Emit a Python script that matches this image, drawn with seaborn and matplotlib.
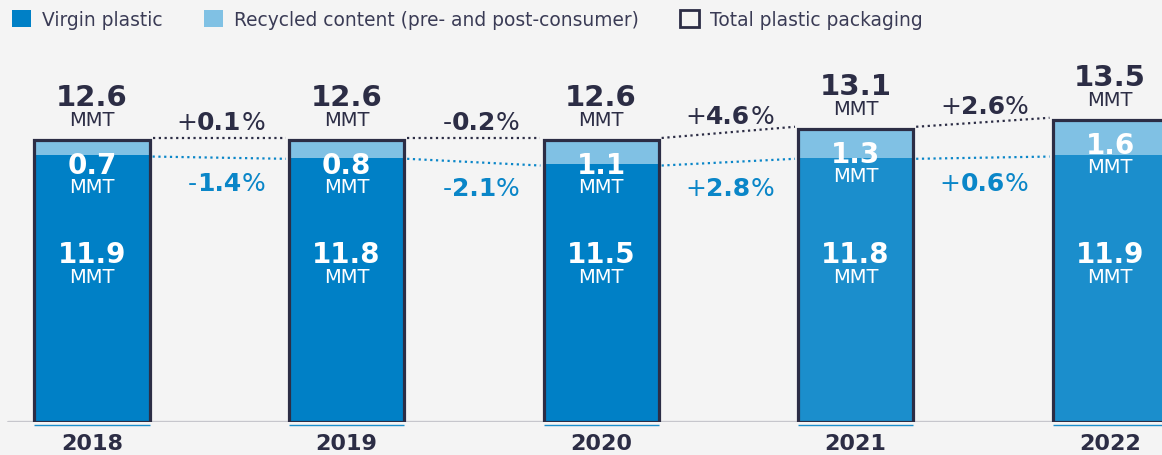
import matplotlib
matplotlib.use("Agg")
import matplotlib.pyplot as plt
import seaborn as sns
import pandas as pd
from matplotlib.patches import Patch

# ---- data ----
years = ["2018", "2019", "2020", "2021", "2022"]
virgin = [11.9, 11.8, 11.5, 11.8, 11.9]
recycled = [0.7, 0.8, 1.1, 1.3, 1.6]
total = [12.6, 12.6, 12.6, 13.1, 13.5]
total_change = ["+", "0.1", "%"], ["-", "0.2", "%"], ["+", "4.6", "%"], ["+", "2.6", "%"]
virgin_change = ["-", "1.4", "%"], ["-", "2.1", "%"], ["+", "2.8", "%"], ["+", "0.6", "%"]
legend_labels = ["Virgin plastic", "Recycled content (pre- and post-consumer)", "Total plastic packaging"]

# ---- style ----
BG = "#F4F4F4"
DARK = "#2C2D45"
VIRGIN_A = "#0080C6"
VIRGIN_B = "#1B8ECC"
RECYC = "#80C1E4"
BLUE_TXT = "#0A86C8"
GRAY = "#C6C6CC"
FONT = "DejaVu Sans"

sns.set_theme(style="white")
plt.rcParams["font.family"] = [FONT]

df = pd.DataFrame({"year": years, "virgin": virgin, "recycled": recycled, "total": total})
virgin_colors = [VIRGIN_A, VIRGIN_A, VIRGIN_A, VIRGIN_B, VIRGIN_B]

fig = plt.figure(figsize=(11.62, 4.56), dpi=100, facecolor=BG)
ax = fig.add_axes([0, 33 / 456, 1, 423 / 456])
ax.set_facecolor(BG)

W = 0.452
sns.barplot(data=df, x="year", y="total", color=RECYC, width=W, ax=ax,
            saturation=1, linewidth=0, zorder=2)
sns.barplot(data=df, x="year", y="virgin", hue="year", palette=virgin_colors, width=W,
            ax=ax, saturation=1, linewidth=0, legend=False, zorder=3)
sns.barplot(data=df, x="year", y="total", fill=False, width=W, ax=ax,
            edgecolor=DARK, linewidth=2.3, zorder=4)

ax.set_xlim(-0.3615, 4.204)
ax.set_ylim(0, 18.884)
for s in ax.spines.values():
    s.set_visible(False)
ax.set_yticks([])
ax.set_xlabel("")
ax.set_ylabel("")
ax.tick_params(axis="x", length=0, pad=8)
for lab in ax.get_xticklabels():
    lab.set_fontsize(16)
    lab.set_fontweight("bold")
    lab.set_color(DARK)

ax.axhline(0, xmin=8 / 1162, xmax=1, color=GRAY, lw=2.4, zorder=1)
n = len(years)
ax.hlines([-0.12] * n, [i - W / 2 for i in range(n)], [i + W / 2 for i in range(n)],
          color=VIRGIN_B, lw=1.0, zorder=5, clip_on=False)

# value labels
for i in range(n):
    ax.text(i, total[i] + 1.55, f"{total[i]:.1f}", ha="center", va="baseline",
            fontsize=21, fontweight="bold", color=DARK)
    ax.text(i, total[i] + 0.65, "MMT", ha="center", va="baseline", fontsize=14, color=DARK)
    ax.text(i, total[i] - 1.5, f"{recycled[i]:.1f}", ha="center", va="baseline",
            fontsize=20, fontweight="bold", color="white", zorder=6)
    ax.text(i, total[i] - 2.35, "MMT", ha="center", va="baseline", fontsize=14,
            color="white", zorder=6)
    ax.text(i, 7.14, f"{virgin[i]:.1f}", ha="center", va="baseline",
            fontsize=20, fontweight="bold", color="white", zorder=6)
    ax.text(i, 6.25, "MMT", ha="center", va="baseline", fontsize=14, color="white", zorder=6)

dot = (0, (1, 1.6))
gap = 0.012


def pct(x, y, parts, color):
    mid = ax.text(x, y, parts[1], ha="center", va="baseline", fontsize=18,
                  fontweight="bold", color=color)
    ax.annotate(parts[0], xy=(0, 0), xycoords=mid, ha="right", va="bottom",
                fontsize=18, color=color)
    ax.annotate(parts[2], xy=(1, 0), xycoords=mid, ha="left", va="bottom",
                fontsize=18, color=color)


for i in range(n - 1):
    x0, x1 = i + W / 2 + gap, i + 1 - W / 2 - gap
    ax.plot([x0, x1], [total[i] + 0.08, total[i + 1] + 0.08], color=DARK, lw=1.6,
            linestyle=dot, zorder=3)
    ax.plot([x0, x1], [virgin[i] - 0.05, virgin[i + 1] - 0.05], color=BLUE_TXT, lw=1.6,
            linestyle=dot, zorder=3)
    pct(i + 0.5, (total[i] + total[i + 1]) / 2 + 0.5, total_change[i], DARK)
    pct(i + 0.5, (virgin[i] + virgin[i + 1]) / 2 - 1.5, virgin_change[i], BLUE_TXT)

handles = [Patch(facecolor=VIRGIN_A, edgecolor="none"),
           Patch(facecolor=RECYC, edgecolor="none"),
           Patch(facecolor="none", edgecolor=DARK, linewidth=2)]
fig.legend(handles, legend_labels, loc="upper left", bbox_to_anchor=(12 / 1162, 1 - 11 / 456),
           ncol=3, frameon=False, fontsize=13.4, handlelength=1.02, handleheight=1.02,
           handletextpad=0.6, columnspacing=2.2, borderpad=0, borderaxespad=0,
           labelcolor="#3A3B55")

fig.savefig("out.png", dpi=100, facecolor=BG)
